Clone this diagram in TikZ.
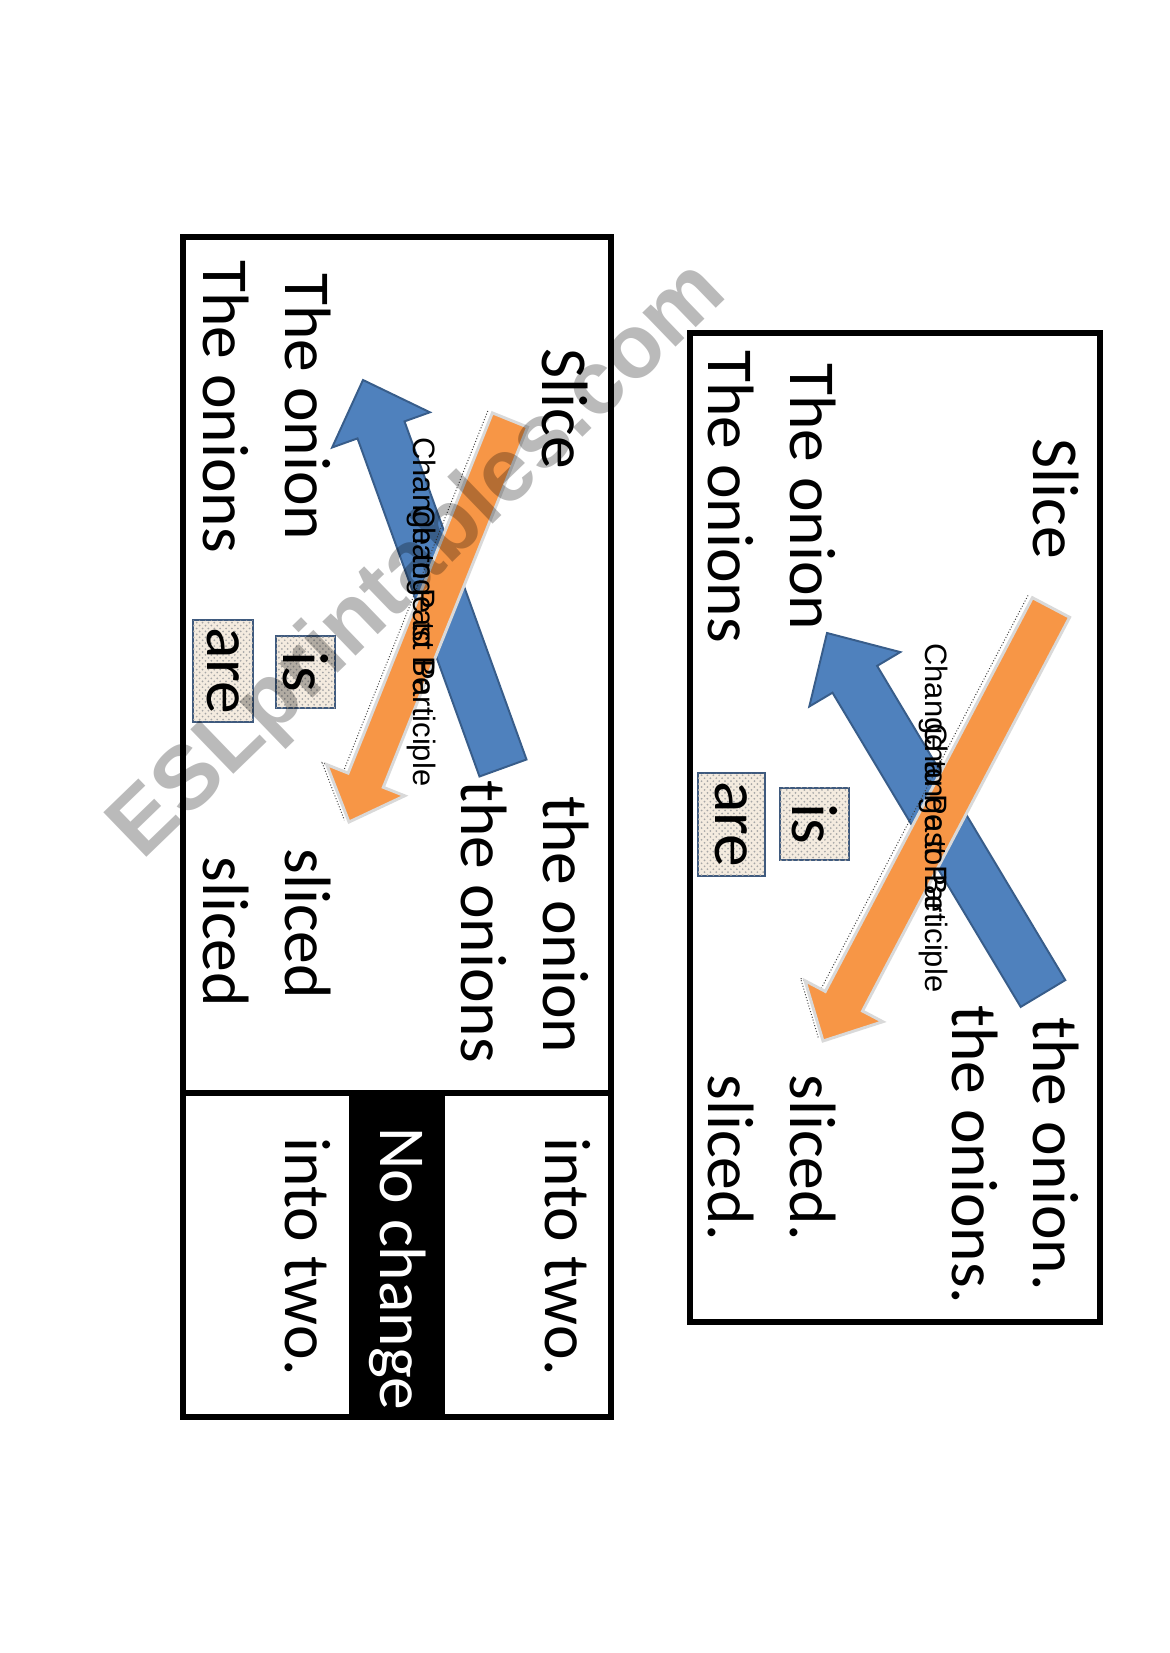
\documentclass[tikz,border=0pt]{standalone}
\usepackage{fontspec}
\setmainfont{Carlito}
\newfontfamily\arialfont{Liberation Sans}
\usetikzlibrary{patterns}
\definecolor{arrowblue}{HTML}{4F81BD}
\definecolor{blueedge}{HTML}{385D8A}
\definecolor{arroworange}{HTML}{F79646}
\definecolor{boxfill}{HTML}{F4EBDF}
\definecolor{boxedge}{HTML}{3F5A7E}
\tikzset{
  card/.style={draw=black, line width=3pt},
  word/.style={rotate=-90, anchor=base west, inner sep=0pt, font=\fontsize{33.5}{40}\selectfont},
  wordbox/.style={rotate=-90, draw=boxedge, line width=1.3pt, fill=boxfill, inner sep=0pt,
    postaction={pattern=crosshatch dots, pattern color=black!35}, font=\fontsize{33.5}{40}\selectfont},
  bluearrow/.style={fill=arrowblue, draw=blueedge, line width=1pt},
  orangearrow/.style={fill=arroworange, draw=gray!30, line width=1.5pt},
  shadowline/.style={densely dotted, line width=0.5pt, black!75},
  hint/.style={rotate=-90, anchor=base west, inner sep=0pt, font=\arialfont\fontsize{15.8}{18}\selectfont},
  watermark/.style={rotate=44, inner sep=0pt, text=black, text opacity=0.27, font=\arialfont\bfseries\fontsize{46}{52}\selectfont},
}

\begin{document}
\begin{tikzpicture}[x=0.017964cm, y=-0.017964cm]
  \useasboundingbox (0,0) rectangle (1169,1653);

  % Left card
  \fill[black] (349,1093) rectangle (445,1417);
  \draw[card] (183,237) rectangle (611,1417);
  \draw[card] (183,1093) -- (611,1093);

  \node[word] (lslice) at (542,348) {Slice};
  \node[word] (lobj1) at (543,796) {the onion};
  \node[word] (lobj2) at (461,780) {the onions};
  \node[word] (lsubj1) at (285,273) {The onion};
  \node[word] (lsubj2) at (203,260) {The onions};
  \node[word] (lpp1) at (285,848) {sliced};
  \node[word] (lpp2) at (203,856) {sliced};
  \node[wordbox, minimum width=36.8pt, minimum height=30.1pt] (lis) at (305.5,672) {is};
  \node[wordbox, minimum width=52.1pt, minimum height=30.6pt] (lare) at (223,671) {are};
  \node[word] (linto1) at (545,1137) {into two.};
  \node[word, text=white] (lnochange) at (380,1127) {No change};
  \node[word] (linto2) at (285,1137) {into two.};

  % Left arrows
  \draw[bluearrow] (526.5,759.5) -- (404.5,421.4) -- (429.9,412.3) -- (363,380)
    -- (332.1,447.5) -- (357.5,438.4) -- (479.5,776.5) -- cycle;
  \draw[shadowline] (487.8,411.0) -- (343.5,771.2) -- (322.1,762.7) -- (344.4,820.1);
  \draw[orangearrow] (492.4,412.9) -- (348.1,773.1) -- (326.7,764.6) -- (349,822)
    -- (404.7,795.8) -- (383.3,787.3) -- (527.6,427.1) -- cycle;
  \node[hint] (lhint1) at (413,437) {Change to Past Participle};
  \node[hint] (lhint2) at (413,505) {Change to Be};

  % Right card
  \draw[card] (690,333) rectangle (1100,1322);

  \node[word] (rslice) at (1033,438) {Slice};
  \node[word] (rsubj1) at (790,363) {The onion};
  \node[word] (rsubj2) at (708,350) {The onions};
  \node[word] (robj1) at (1033,1017) {the onion.};
  \node[word] (robj2) at (952,1005) {the onions.};
  \node[word] (rpp1) at (790,1074) {sliced.};
  \node[word] (rpp2) at (708,1074) {sliced.};
  \node[wordbox, minimum width=36.8pt, minimum height=35.2pt] (ris) at (814.5,824) {is};
  \node[wordbox, minimum width=52.6pt, minimum height=34.2pt] (rare) at (731.5,824.5) {are};

  % Right arrows
  \draw[bluearrow] (1065.3,980.1) -- (877.1,665.9) -- (900.3,652.1) -- (827,633)
    -- (809.3,706.5) -- (832.5,692.7) -- (1020.7,1006.9) -- cycle;
  \draw[shadowline] (1028.0,595.4) -- (820.9,989.1) -- (800.6,978.4) -- (818.6,1038.7);
  \draw[orangearrow] (1032.4,597.7) -- (825.3,991.4) -- (805.0,980.7) -- (823,1041)
    -- (882.8,1021.7) -- (862.5,1011.0) -- (1069.6,617.3) -- cycle;
  \node[hint] (rhint1) at (925,643) {Change to Past Participle};
  \node[hint] (rhint2) at (925,723) {Change to Be};

  % Watermark
  \node[watermark] (wm) at (420,562) {ESLprintables.com};
\end{tikzpicture}
\end{document}
